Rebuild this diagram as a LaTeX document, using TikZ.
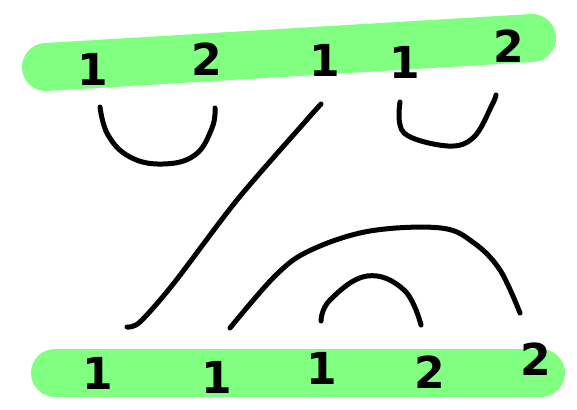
\documentclass[tikz,border=0pt]{standalone}
\usepackage{fontspec}
\setmainfont{DejaVu Sans}
\begin{document}
\begin{tikzpicture}[x=1pt,y=-1pt,
  barline/.style={line width=48pt,line cap=round,color=barGreen},
  strand/.style={line width=5pt,line cap=round,line join=round},
  digit/.style={font=\bfseries\fontsize{44}{44}\selectfont,inner sep=0pt}]
\definecolor{barGreen}{HTML}{80FF80}
\useasboundingbox (0,0) rectangle (577,409);
% bars
\draw[barline] (46,67) -- (532,38);
\draw[barline] (55,373) -- (541,373);
% top labels
\node[digit] (t1) at (93,69) {1};
\node[digit] (t2) at (207,59) {2};
\node[digit] (t3) at (325,60) {1};
\node[digit] (t4) at (405,62) {1};
\node[digit] (t5) at (509,46) {2};
% bottom labels
\node[digit] (b1) at (98,373) {1};
\node[digit] (b2) at (217,377) {1};
\node[digit] (b3) at (322,368) {1};
\node[digit] (b4) at (430,372) {2};
\node[digit] (b5) at (536,359) {2};
% strands
\draw[strand] plot[smooth,tension=0.7] coordinates {(100,107) (108,135) (130,157) (163,164) (195,155) (212,128) (215,108)};
\draw[strand] plot[smooth,tension=0.5] coordinates {(321,104) (304,123) (237,200) (174,283) (140,322) (127,327)};
\draw[strand] plot[smooth,tension=0.6] coordinates {(400,102) (404,133) (448,146) (474,137) (492,105) (496,95)};
\draw[strand] plot[smooth,tension=0.6] coordinates {(230,328) (276,275) (311,250) (370,231) (441,228) (474,243) (500,270) (520,313)};
\draw[strand] plot[smooth,tension=0.7] coordinates {(321,321) (330,300) (367,276) (404,290) (421,325)};
\end{tikzpicture}
\end{document}
